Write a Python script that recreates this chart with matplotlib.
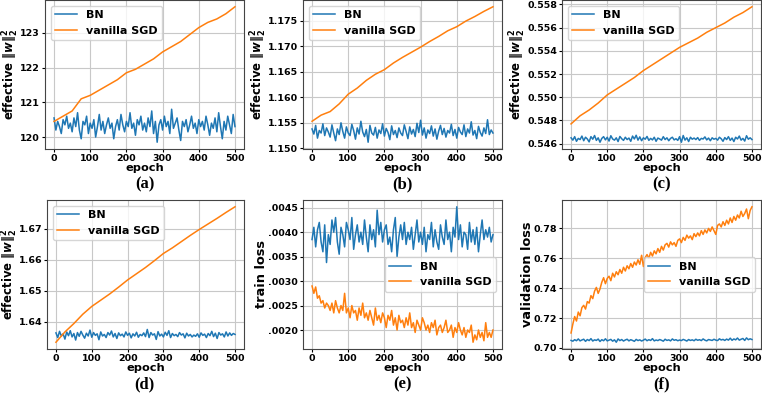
import numpy as np
from matplotlib import pyplot as plt
from matplotlib.ticker import FuncFormatter

# epochs: noisy curves sampled every 5 epochs, smooth ones every 25
epochs_n = np.arange(0, 501, 5)
epochs_s = np.arange(0, 501, 25)

bn_a = [120.55, 120.2, 120.45, 120.3, 120.1, 120.5, 120.35, 120.6, 120.25, 120.4,
        120.15, 120.55, 120.3, 120.7, 120.2, 119.95, 120.45, 120.35, 120.6, 120.1,
        120.4, 120.25, 120.5, 120.0, 120.3, 120.65, 120.2, 120.45, 120.1, 120.35,
        120.55, 120.25, 120.4, 119.95, 120.3, 120.5, 120.2, 120.65, 120.35, 120.15,
        120.45, 120.3, 120.7, 120.25, 120.4, 120.05, 120.5, 120.35, 120.6, 120.2,
        120.4, 120.15, 120.55, 120.3, 120.75, 120.1, 120.45, 119.85, 120.35, 120.5,
        120.2, 120.6, 120.3, 120.45, 120.1, 120.8, 120.25, 120.4, 120.55, 120.2,
        119.9, 120.45, 120.3, 120.5, 120.15, 120.35, 120.6, 120.25, 120.4, 120.1,
        120.5, 120.3, 120.45, 120.2, 120.6, 120.35, 120.05, 120.4, 120.25, 120.55,
        120.15, 120.7, 120.3, 119.95, 120.45, 120.2, 120.6, 120.35, 120.1, 120.65, 120.3]
sgd_a = [120.45, 120.6, 120.75, 121.1, 121.2, 121.35, 121.5, 121.65, 121.85, 121.95, 122.1,
         122.25, 122.45, 122.6, 122.75, 122.95, 123.15, 123.3, 123.4, 123.55, 123.75]

bn_b = [1.1538, 1.1528, 1.1545, 1.1520, 1.1535, 1.1530, 1.1548, 1.1525, 1.1540, 1.1532,
        1.1522, 1.1546, 1.1530, 1.1515, 1.1538, 1.1527, 1.1550, 1.1533, 1.1520, 1.1542,
        1.1530, 1.1525, 1.1547, 1.1535, 1.1518, 1.1540, 1.1528, 1.1553, 1.1532, 1.1523,
        1.1537, 1.1512, 1.1545, 1.1530, 1.1526, 1.1541, 1.1520, 1.1536, 1.1529, 1.1548,
        1.1524, 1.1539, 1.1531, 1.1517, 1.1544, 1.1527, 1.1535, 1.1521, 1.1540, 1.1530,
        1.1525, 1.1546, 1.1533, 1.1519, 1.1542, 1.1528, 1.1537, 1.1523, 1.1549, 1.1531,
        1.1555, 1.1526, 1.1540, 1.1520, 1.1536, 1.1529, 1.1544, 1.1524, 1.1538, 1.1518,
        1.1534, 1.1545, 1.1527, 1.1539, 1.1522, 1.1535, 1.1530, 1.1547, 1.1525, 1.1537,
        1.1520, 1.1541, 1.1532, 1.1527, 1.1546, 1.1523, 1.1538, 1.1530, 1.1552, 1.1526,
        1.1535, 1.1519, 1.1543, 1.1531, 1.1524, 1.1540, 1.1529, 1.1556, 1.1527, 1.1536, 1.1530]
sgd_b = [1.1553, 1.1565, 1.1572, 1.1587, 1.1606, 1.1618, 1.1633, 1.1645, 1.1654, 1.1667, 1.1678,
         1.1688, 1.1698, 1.1709, 1.1719, 1.1730, 1.1738, 1.1749, 1.1758, 1.1768, 1.1777]

bn_c = [0.54650, 0.54630, 0.54660, 0.54620, 0.54645, 0.54635, 0.54665, 0.54625, 0.54655, 0.54640,
        0.54615, 0.54660, 0.54638, 0.54670, 0.54628, 0.54650, 0.54612, 0.54645, 0.54660, 0.54632,
        0.54655, 0.54622, 0.54668, 0.54640, 0.54630, 0.54650, 0.54618, 0.54662, 0.54642, 0.54628,
        0.54655, 0.54635, 0.54648, 0.54620, 0.54665, 0.54640, 0.54672, 0.54630, 0.54658, 0.54625,
        0.54650, 0.54638, 0.54662, 0.54628, 0.54645, 0.54632, 0.54655, 0.54620, 0.54648, 0.54640,
        0.54630, 0.54660, 0.54635, 0.54650, 0.54625, 0.54645, 0.54655, 0.54632, 0.54642, 0.54628,
        0.54660, 0.54612, 0.54670, 0.54630, 0.54650, 0.54618, 0.54655, 0.54638, 0.54648, 0.54635,
        0.54652, 0.54628, 0.54645, 0.54640, 0.54658, 0.54632, 0.54648, 0.54625, 0.54650, 0.54638,
        0.54645, 0.54630, 0.54655, 0.54642, 0.54620, 0.54652, 0.54635, 0.54660, 0.54628, 0.54648,
        0.54618, 0.54655, 0.54640, 0.54665, 0.54630, 0.54645, 0.54622, 0.54668, 0.54638, 0.54650, 0.54635]
sgd_c = [0.5477, 0.5484, 0.5489, 0.5495, 0.5502, 0.5507, 0.5512, 0.5517, 0.5523, 0.5528, 0.5533,
         0.5538, 0.5543, 0.5547, 0.5551, 0.5556, 0.5560, 0.5564, 0.5569, 0.5573, 0.5578]

bn_d = [1.6365, 1.6350, 1.6370, 1.6355, 1.6362, 1.6345, 1.6368, 1.6356, 1.6372, 1.6352,
        1.6363, 1.6342, 1.6366, 1.6354, 1.6370, 1.6358, 1.6348, 1.6364, 1.6355, 1.6374,
        1.6351, 1.6366, 1.6357, 1.6362, 1.6343, 1.6368, 1.6355, 1.6360, 1.6350, 1.6366,
        1.6358, 1.6371, 1.6352, 1.6363, 1.6347, 1.6365, 1.6356, 1.6361, 1.6352, 1.6368,
        1.6357, 1.6364, 1.6349, 1.6362, 1.6355, 1.6367, 1.6351, 1.6360, 1.6356, 1.6365,
        1.6353, 1.6376, 1.6350, 1.6366, 1.6358, 1.6362, 1.6344, 1.6369, 1.6355, 1.6361,
        1.6352, 1.6367, 1.6357, 1.6372, 1.6350, 1.6363, 1.6356, 1.6360, 1.6353, 1.6366,
        1.6358, 1.6362, 1.6349, 1.6364, 1.6355, 1.6360, 1.6352, 1.6358, 1.6354, 1.6362,
        1.6351, 1.6365, 1.6357, 1.6361, 1.6350, 1.6363, 1.6356, 1.6370, 1.6353, 1.6364,
        1.6347, 1.6366, 1.6358, 1.6362, 1.6352, 1.6368, 1.6355, 1.6365, 1.6357, 1.6363, 1.6360]
sgd_d = [1.6335, 1.6368, 1.6395, 1.6425, 1.6450, 1.6470, 1.6490, 1.6512, 1.6535, 1.6555, 1.6575,
         1.6597, 1.6620, 1.6638, 1.6658, 1.6678, 1.6697, 1.6715, 1.6733, 1.6752, 1.6770]

# train loss, in units of 1e-4
bn_e = [38.5, 41.0, 37.0, 40.5, 42.0, 38.0, 36.0, 41.5, 33.8, 39.5,
        37.5, 42.5, 40.0, 43.0, 38.0, 35.5, 41.0, 39.5, 37.0, 42.0,
        40.5, 38.5, 43.0, 36.5, 39.5, 41.5, 38.0, 40.0, 37.5, 42.5,
        39.0, 36.0, 41.5, 38.5, 40.5, 37.0, 44.5, 39.5, 42.0, 38.0,
        40.5, 41.5, 37.5, 39.0, 36.0, 40.5, 43.0, 35.0, 39.0, 41.5,
        38.5, 42.0, 37.5, 40.0, 38.5, 41.0, 36.5, 39.5, 42.5, 38.0,
        40.0, 37.5, 41.0, 36.0, 39.5, 38.5, 42.0, 37.0, 40.5, 38.0,
        36.5, 41.5, 39.0, 37.5, 42.5, 38.5, 40.0, 36.0, 41.0, 39.0,
        45.2, 38.5, 41.5, 37.0, 40.0, 39.5, 36.5, 42.0, 38.0, 40.5,
        37.5, 41.0, 36.0, 39.5, 42.5, 38.5, 40.5, 39.0, 41.0, 38.0, 39.5]
sgd_e = [29.0, 27.5, 28.8, 26.5, 27.0, 25.5, 26.0, 24.5, 25.5, 25.0,
         24.0, 25.5, 23.5, 26.0, 24.5, 23.5, 25.0, 24.0, 27.5, 23.5,
         24.5, 22.5, 25.0, 23.5, 24.0, 22.0, 24.5, 23.0, 25.5, 22.5,
         23.5, 22.0, 24.0, 22.5, 21.0, 24.5, 22.0, 23.0, 21.5, 23.5,
         22.5, 20.5, 23.0, 22.0, 24.0, 21.0, 22.5, 20.0, 23.0, 21.5,
         22.0, 20.5, 22.5, 21.0, 23.5, 20.5, 21.5, 19.5, 22.0, 21.0,
         20.0, 22.5, 21.5, 20.0, 21.0, 19.5, 21.5, 20.5, 22.0, 19.0,
         20.5, 21.0, 19.5, 20.5, 22.0, 19.5, 20.0, 21.0, 18.5, 20.5,
         19.5, 21.5, 20.0, 19.0, 20.5, 18.5, 20.0, 19.5, 21.0, 17.5,
         19.0, 18.0, 20.0, 18.5, 19.5, 17.8, 21.5, 18.5, 19.5, 18.5, 20.0]

bn_f = [0.7050, 0.7045, 0.7055, 0.7048, 0.7060, 0.7047, 0.7053, 0.7058, 0.7044, 0.7056,
        0.7049, 0.7062, 0.7046, 0.7054, 0.7050, 0.7059, 0.7043, 0.7055, 0.7048, 0.7061,
        0.7047, 0.7052, 0.7057, 0.7045, 0.7054, 0.7038, 0.7060, 0.7049, 0.7056, 0.7046,
        0.7053, 0.7058, 0.7047, 0.7055, 0.7050, 0.7044, 0.7057, 0.7049, 0.7054, 0.7046,
        0.7052, 0.7059, 0.7048, 0.7055, 0.7050, 0.7062, 0.7047, 0.7053, 0.7049, 0.7056,
        0.7051, 0.7045, 0.7058, 0.7050, 0.7054, 0.7047, 0.7060, 0.7051, 0.7055, 0.7048,
        0.7053, 0.7049, 0.7057, 0.7052, 0.7046, 0.7056, 0.7050, 0.7054, 0.7048, 0.7058,
        0.7051, 0.7055, 0.7049, 0.7060, 0.7052, 0.7047, 0.7056, 0.7053, 0.7050, 0.7058,
        0.7052, 0.7049, 0.7061, 0.7053, 0.7057, 0.7050, 0.7059, 0.7052, 0.7065, 0.7051,
        0.7060, 0.7054, 0.7066, 0.7052, 0.7058, 0.7063, 0.7050, 0.7067, 0.7055, 0.7061, 0.7056]
sgd_f = [0.7100, 0.7160, 0.7210, 0.7180, 0.7240, 0.7215, 0.7270, 0.7285, 0.7260, 0.7310,
         0.7300, 0.7350, 0.7330, 0.7380, 0.7405, 0.7365, 0.7395, 0.7440, 0.7470, 0.7430,
         0.7465, 0.7480, 0.7450, 0.7500, 0.7475, 0.7510, 0.7490, 0.7525, 0.7500, 0.7540,
         0.7515, 0.7550, 0.7530, 0.7565, 0.7540, 0.7575, 0.7555, 0.7590, 0.7560, 0.7620,
         0.7545, 0.7605, 0.7625, 0.7600, 0.7640, 0.7615, 0.7650, 0.7630, 0.7665, 0.7640,
         0.7680, 0.7655, 0.7690, 0.7700, 0.7675, 0.7710, 0.7690, 0.7705, 0.7680, 0.7720,
         0.7730, 0.7705, 0.7740, 0.7720, 0.7755, 0.7735, 0.7750, 0.7725, 0.7765, 0.7745,
         0.7770, 0.7750, 0.7785, 0.7760, 0.7790, 0.7770, 0.7800, 0.7780, 0.7810, 0.7785,
         0.7760, 0.7820, 0.7830, 0.7810, 0.7845, 0.7820, 0.7855, 0.7830, 0.7870, 0.7840,
         0.7880, 0.7855, 0.7890, 0.7870, 0.7915, 0.7880, 0.7900, 0.7930, 0.7865, 0.7920, 0.7945]

panel_names = ['(a)', '(b)', '(c)', '(d)', '(e)', '(f)']
norm_label = r'effective $\|w\|_2^2$'

plt.rcParams['font.family'] = 'DejaVu Sans'
plt.rcParams['font.weight'] = 'bold'
plt.rcParams['axes.labelweight'] = 'bold'
plt.rcParams['mathtext.fontset'] = 'custom'
plt.rcParams['mathtext.rm'] = 'DejaVu Sans:bold'
plt.rcParams['mathtext.it'] = 'DejaVu Sans:italic:bold'
plt.rcParams['mathtext.bf'] = 'DejaVu Sans:bold'

fig = plt.figure(figsize=(7.62, 3.96), dpi=100)

W, H = 762, 396
lefts = [[45, 303, 562], [47, 303, 562]]
tops = [0, 200]
bottoms = [149, 349]
width = 199

panels = [
    (bn_a, sgd_a, epochs_s, norm_label, 'upper left', 1.0),
    (bn_b, sgd_b, epochs_s, norm_label, 'upper left', 1.0),
    (bn_c, sgd_c, epochs_s, norm_label, 'upper left', 1.0),
    (bn_d, sgd_d, epochs_s, norm_label, 'upper left', 1.0),
    (bn_e, sgd_e, epochs_n, 'train loss', 'center right', 1e-4),
    (bn_f, sgd_f, epochs_n, 'validation loss', 'center right', 1.0),
]

for i, (bn, sgd, sgd_x, ylabel, loc, scale) in enumerate(panels):
    row, col = divmod(i, 3)
    top, bottom = tops[row], bottoms[row]
    left = lefts[row][col]
    w = width - (left - lefts[0][col])
    ax = fig.add_axes([left / W, 1 - bottom / H, w / W, (bottom - top) / H])
    ax.plot(epochs_n, np.array(bn) * scale, color='#1f77b4', lw=1.1, label='BN')
    ax.plot(sgd_x, np.array(sgd) * scale, color='#ff7f0e', lw=1.1, label='vanilla SGD')
    ax.grid(True, color='#c8c8c8', lw=0.8)
    ax.set_xticks([0, 100, 200, 300, 400, 500])
    ax.tick_params(labelsize=6.8, length=2.5, pad=1)
    for lab in ax.get_xticklabels() + ax.get_yticklabels():
        lab.set_fontweight('bold')
    if i == 4:
        ax.set_yticks([0.0020, 0.0025, 0.0030, 0.0035, 0.0040, 0.0045])
        ax.yaxis.set_major_formatter(FuncFormatter(lambda v, p: f'{v:.4f}'.lstrip('0')))
    else:
        ax.ticklabel_format(axis='y', useOffset=False)
    for s in ax.spines.values():
        s.set_color('#444444')
    ax.set_xlabel('epoch', fontsize=8.2, fontweight='bold', labelpad=0)
    if ylabel == norm_label:
        ax.set_ylabel(ylabel, fontsize=8.4, fontweight='bold', labelpad=-1 if i == 3 else -0.5)
    else:
        ax.set_ylabel(ylabel, fontsize=9.3, fontweight='bold', labelpad=0)
    ax.legend(loc=loc, prop={'weight': 'bold', 'size': 8})
    cx = (lefts[0][col] + width / 2) / W
    fig.text(cx, 1 - (bottom + 35) / H, panel_names[i], ha='center', va='center',
             fontsize=12, fontweight='bold', family='Liberation Serif')

fig.savefig('out.png', dpi=100)
